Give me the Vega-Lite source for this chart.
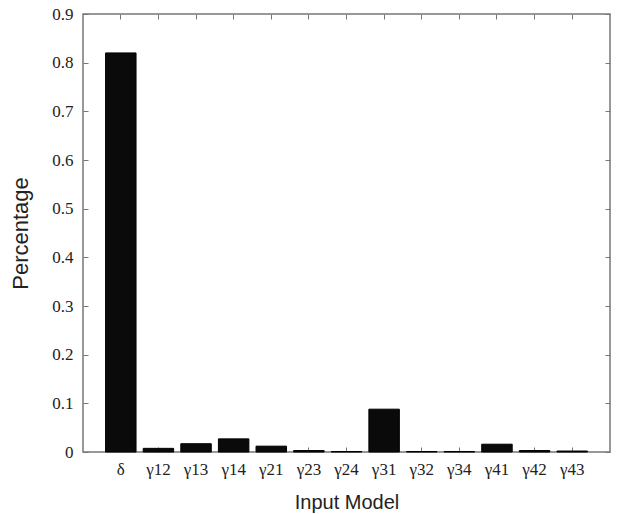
{
  "$schema": "https://vega.github.io/schema/vega-lite/v6.json",
  "width": 527,
  "height": 438,
  "autosize": "none",
  "padding": {"left": 83, "top": 14, "right": 31, "bottom": 62},
  "background": "white",
  "config": {
    "view": {"stroke": "#777777", "strokeWidth": 1.5},
    "axis": {"domainColor": "#777777", "tickColor": "#777777", "labelFont": "Liberation Serif", "labelFontSize": 17, "labelColor": "#222222", "titleFont": "Liberation Sans", "titleFontWeight": "normal", "titleColor": "#222222", "grid": false}
  },
  "data": {
    "values": [
      {"model": "δ", "pct": 0.82},
      {"model": "γ12", "pct": 0.0075},
      {"model": "γ13", "pct": 0.017},
      {"model": "γ14", "pct": 0.027},
      {"model": "γ21", "pct": 0.012},
      {"model": "γ23", "pct": 0.003},
      {"model": "γ24", "pct": 0.001},
      {"model": "γ31", "pct": 0.088},
      {"model": "γ32", "pct": 0.001},
      {"model": "γ34", "pct": 0.001},
      {"model": "γ41", "pct": 0.016},
      {"model": "γ42", "pct": 0.003},
      {"model": "γ43", "pct": 0.002}
    ]
  },
  "layer": [
    {
      "mark": {"type": "bar", "color": "#0a0a0a", "stroke": "#000000"},
      "encoding": {
        "x": {"field": "model", "type": "nominal", "sort": null, "scale": {"paddingInner": 0.19, "paddingOuter": 0.6}, "axis": {"title": "Input Model", "titleFontSize": 20, "labelAngle": 0, "tickSize": -5, "labelPadding": 14, "titlePadding": 15, "domain": false}},
        "y": {"field": "pct", "type": "quantitative", "scale": {"domain": [0, 0.9], "nice": false}, "axis": {"title": "Percentage", "titleFontSize": 22, "values": [0, 0.1, 0.2, 0.3, 0.4, 0.5, 0.6, 0.7, 0.8, 0.9], "format": "~g", "tickSize": -5, "labelPadding": 15, "titlePadding": 19, "domain": false}}
      }
    },
    {
      "mark": {"type": "bar", "opacity": 0},
      "encoding": {
        "x": {"field": "model", "type": "nominal", "sort": null, "axis": {"orient": "top", "title": null, "labels": false, "tickSize": -5, "domain": false}},
        "y": {"field": "pct", "type": "quantitative", "axis": {"orient": "right", "title": null, "labels": false, "values": [0, 0.1, 0.2, 0.3, 0.4, 0.5, 0.6, 0.7, 0.8, 0.9], "tickSize": -5, "domain": false}}
      }
    }
  ],
  "resolve": {"axis": {"x": "independent", "y": "independent"}}
}
